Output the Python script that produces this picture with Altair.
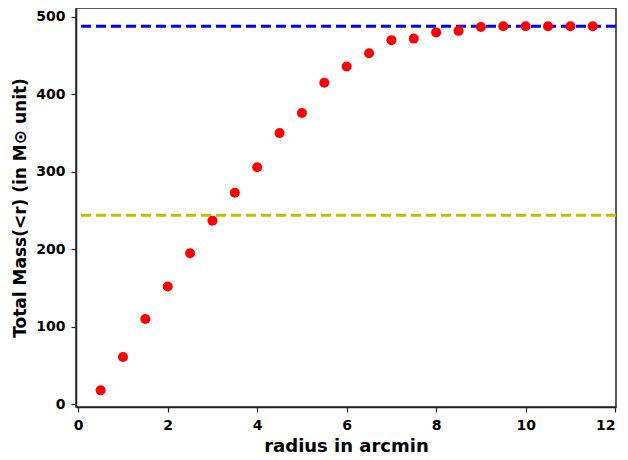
import altair as alt
import pandas as pd

radius = [0.5, 1.0, 1.5, 2.0, 2.5, 3.0, 3.5, 4.0, 4.5, 5.0, 5.5, 6.0,
          6.5, 7.0, 7.5, 8.0, 8.5, 9.0, 9.5, 10.0, 10.5, 11.0, 11.5]
mass = [18, 61, 110, 152, 195, 237, 273, 306, 350, 376, 415, 436,
        453, 470, 472, 480, 482, 487, 488, 488, 488, 488, 488]
total_mass = [488]
half_mass = [244]

x_ticks = [0, 2, 4, 6, 8, 10, 12]
y_ticks = [0, 100, 200, 300, 400, 500]

df = pd.DataFrame({"radius": radius, "mass": mass})
df_tot = pd.DataFrame({"m": total_mass})
df_half = pd.DataFrame({"m": half_mass})

FONT = "DejaVu Sans"
xscale = alt.Scale(domain=[-0.05, 12.02], nice=False, zero=False)
yscale = alt.Scale(domain=[-3.5, 511.5], nice=False, zero=False)

points = alt.Chart(df).mark_circle(color="#ff0000", opacity=1, size=100).encode(
    x=alt.X("radius:Q", scale=xscale,
            axis=alt.Axis(values=x_ticks, title="radius in arcmin", format="d")),
    y=alt.Y("mass:Q", scale=yscale,
            axis=alt.Axis(values=y_ticks, title="Total Mass(<r) (in M\u2299  unit)", format="d",
                          titleFontSize=17, titlePadding=6)),
)

rule_tot = alt.Chart(df_tot).mark_rule(color="#0000ff", strokeWidth=3, strokeDash=[10, 5]).encode(
    y=alt.Y("m:Q", scale=yscale)
)
rule_half = alt.Chart(df_half).mark_rule(color="#bfbf00", strokeWidth=3, strokeDash=[10, 5]).encode(
    y=alt.Y("m:Q", scale=yscale)
)

chart = alt.layer(rule_half, rule_tot, points).properties(
    width=540, height=399,
    autosize=alt.AutoSizeParams(type="none"),
    padding={"left": 68, "top": 0, "right": 4, "bottom": 52},
).configure_view(
    stroke="#222222", strokeWidth=1.5
).configure_axis(
    grid=False,
    labelFont=FONT, labelFontWeight="bold", labelFontSize=14, labelColor="#000000",
    titleFont=FONT, titleFontWeight="bold", titleFontSize=18, titleColor="#000000",
    domainColor="#222222", domainWidth=1.5,
    tickColor="#222222", tickSize=5, tickWidth=1.2,
).configure_axisX(
    labelPadding=6, titlePadding=5,
).configure_axisY(
    labelPadding=6,
)

chart.save("out.html", embed_options={"renderer": "svg", "actions": False})
